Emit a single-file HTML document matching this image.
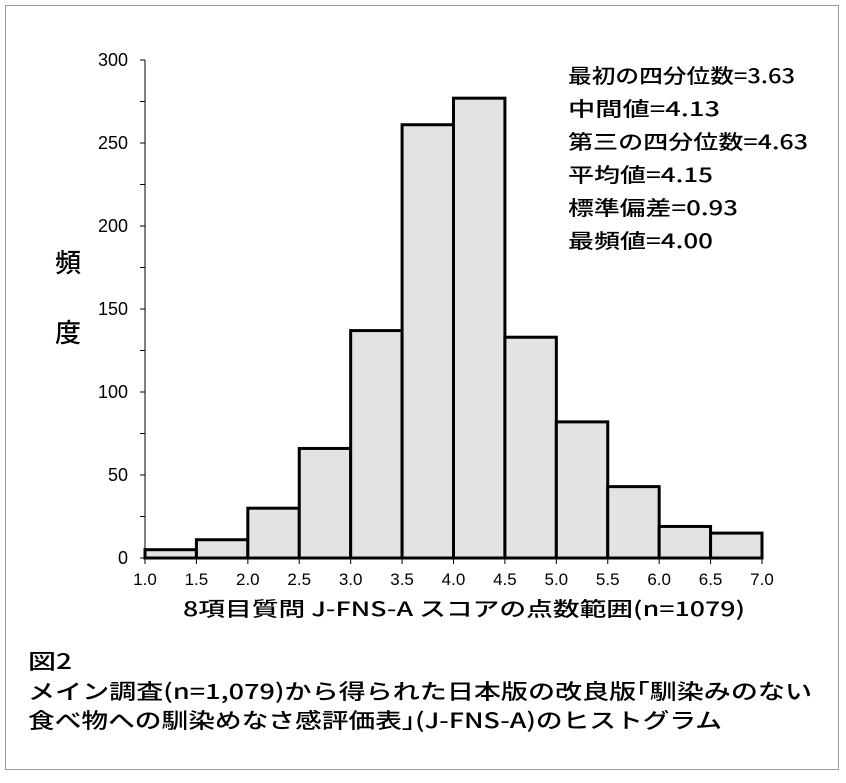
<!DOCTYPE html>
<html><head><meta charset="utf-8"><style>
body{margin:0;background:#fff;}
svg text{font-family:"Liberation Sans","Noto Sans CJK JP",sans-serif;fill:#000;}
.b{font-family:"Noto Sans CJK JP","Liberation Sans",sans-serif !important;font-weight:500;}
</style></head><body>
<svg width="846" height="778">
<rect x="5.5" y="5.5" width="833" height="764" fill="none" stroke="#999" stroke-width="1"/>
<g id="plot"></g>
<text class="b" x="68" y="272" font-size="26" text-anchor="middle">頻</text>
<text class="b" x="68" y="342" font-size="26" text-anchor="middle">度</text>
<text class="b" x="183" y="616" font-size="20" textLength="562" lengthAdjust="spacingAndGlyphs">8項目質問 J-FNS-A スコアの点数範囲(n=1079)</text>
<g class="b" font-size="20">
<text class="b" x="568" y="83" textLength="227" lengthAdjust="spacingAndGlyphs">最初の四分位数=3.63</text>
<text class="b" x="568" y="116" textLength="152" lengthAdjust="spacingAndGlyphs">中間値=4.13</text>
<text class="b" x="568" y="149" textLength="240" lengthAdjust="spacingAndGlyphs">第三の四分位数=4.63</text>
<text class="b" x="568" y="182" textLength="145" lengthAdjust="spacingAndGlyphs">平均値=4.15</text>
<text class="b" x="568" y="215" textLength="170" lengthAdjust="spacingAndGlyphs">標準偏差=0.93</text>
<text class="b" x="568" y="248" textLength="145" lengthAdjust="spacingAndGlyphs">最頻値=4.00</text>
</g>
<g font-size="21">
<text class="b" x="28" y="669" textLength="44" lengthAdjust="spacingAndGlyphs">図2</text>
<text class="b" x="28" y="699" textLength="784" lengthAdjust="spacingAndGlyphs">メイン調査(n=1,079)から得られた日本版の改良版｢馴染みのない</text>
<text class="b" x="28" y="728" textLength="694" lengthAdjust="spacingAndGlyphs">食べ物への馴染めなさ感評価表｣(J-FNS-A)のヒストグラム</text>
</g>
</svg>
<script>
const binStarts=[1.0,1.5,2.0,2.5,3.0,3.5,4.0,4.5,5.0,5.5,6.0,6.5];
const counts=[5,11,30,66,137,261,277,133,82,43,19,15];
const xTicks=["1.0","1.5","2.0","2.5","3.0","3.5","4.0","4.5","5.0","5.5","6.0","6.5","7.0"];
const yTicks=[0,50,100,150,200,250,300];
const binWidth=0.5;
const NS="http://www.w3.org/2000/svg";
const g=document.getElementById('plot');
const X=v=>145+(v-1)*(617/6);
const Y=v=>558-v*(498/300);
function mk(t,a){const e=document.createElementNS(NS,t);for(const k in a)e.setAttribute(k,a[k]);g.appendChild(e);return e;}
counts.forEach((c,i)=>{
 const r=mk('rect',{x:X(binStarts[i]),y:Y(c),width:X(binStarts[i]+binWidth)-X(binStarts[i]),height:Y(0)-Y(c),fill:'#e3e3e3',stroke:'#000','stroke-width':3});
 
 
});
const ax=mk('line',{x1:145,y1:Y(300),x2:145,y2:558,stroke:'#000','stroke-width':1});


for(let v=0;v<=300;v+=25){mk('line',{x1:140,y1:Y(v),x2:145,y2:Y(v),stroke:'#000'});}
yTicks.forEach(v=>{const t=mk('text',{x:128,y:Y(v)+6,'font-size':18,'text-anchor':'end'});t.textContent=v;
 
 });
xTicks.forEach(s=>{const v=parseFloat(s);mk('line',{x1:X(v),y1:558,x2:X(v),y2:564,stroke:'#000'});
 const t=mk('text',{x:X(v),y:585,'font-size':17,'text-anchor':'middle'});t.textContent=s;
 
 });
</script>
</body></html>
